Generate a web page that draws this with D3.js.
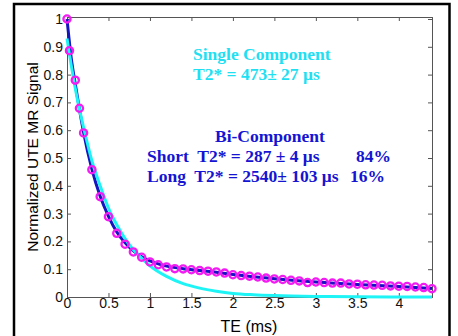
<!DOCTYPE html>
<html>
<head>
<meta charset="utf-8">
<script src="https://cdn.jsdelivr.net/npm/d3@7"></script>
<style>
  body { margin: 0; background: #fff; }
  svg { display: block; }
  .tick text { font-family: "Liberation Sans", Arial, sans-serif; font-size: 14px; fill: #111; }
  .axis path, .axis line { stroke: #555; }
  .note { font-family: "Liberation Serif", "Times New Roman", serif; font-weight: bold; font-size: 17.5px; white-space: pre; }
</style>
</head>
<body>
<div id="chart"></div>
<script>
// measured signal (magenta circles)
var teData = [0, 0.03, 0.1, 0.15, 0.2, 0.3, 0.4, 0.5, 0.6, 0.7, 0.8, 0.9, 1.0, 1.1, 1.2, 1.3,
  1.4, 1.5, 1.6, 1.7, 1.8, 1.9, 2.0, 2.1, 2.2, 2.3, 2.4, 2.5, 2.6, 2.7, 2.8, 2.9, 3.0,
  3.1, 3.2, 3.3, 3.4, 3.5, 3.6, 3.7, 3.8, 3.9, 4.0, 4.1, 4.2, 4.3, 4.4]
var signalData = [1.0, 0.886, 0.78, 0.679, 0.59, 0.458, 0.361, 0.289, 0.229, 0.19, 0.162, 0.143,
  0.126, 0.116, 0.108, 0.102, 0.101, 0.098, 0.095, 0.093, 0.09, 0.086, 0.08, 0.077, 0.075,
  0.072, 0.068, 0.065, 0.063, 0.06, 0.058, 0.052, 0.054, 0.052, 0.05, 0.05, 0.047, 0.046,
  0.044, 0.043, 0.042, 0.04, 0.039, 0.038, 0.036, 0.034, 0.03]

// bi-component fit (dark blue)
var teBi = [0, 0.05, 0.1, 0.15, 0.2, 0.3, 0.4, 0.5, 0.6, 0.7, 0.8, 0.9, 1.0, 1.1, 1.2, 1.4,
  1.6, 1.8, 2.0, 2.5, 3.0, 3.5, 4.0, 4.4]
var signalBi = [1.0, 0.862, 0.765, 0.675, 0.592, 0.46, 0.362, 0.29, 0.234, 0.195, 0.166, 0.145,
  0.13, 0.119, 0.111, 0.102, 0.095, 0.089, 0.081, 0.066, 0.054, 0.045, 0.038, 0.031]

// single component fit (cyan)
var teSingle = [0, 0.05, 0.1, 0.15, 0.2, 0.3, 0.4, 0.5, 0.6, 0.7, 0.8, 0.9, 1.0, 1.2, 1.4,
  1.6, 1.8, 2.0, 2.25, 2.5, 3.0, 3.5, 4.0, 4.4]
var signalSingle = [0.93, 0.835, 0.75, 0.675, 0.61, 0.49, 0.4, 0.32, 0.26, 0.21, 0.17, 0.14,
  0.112, 0.074, 0.048, 0.032, 0.021, 0.013, 0.008, 0.005, 0.002, 0.001, 0, 0]

var xTicks = [0, 0.5, 1, 1.5, 2, 2.5, 3, 3.5, 4]
var yTicks = [0, 0.1, 0.2, 0.3, 0.4, 0.5, 0.6, 0.7, 0.8, 0.9, 1]

var width = 458, height = 336
var svg = d3.select("#chart").append("svg").attr("width", width).attr("height", height)

// outer frame
svg.append("rect").attr("x", 14).attr("y", 4).attr("width", 435.5).attr("height", 345)
  .attr("fill", "none").attr("stroke", "#000").attr("stroke-width", 2.5)

var x = d3.scaleLinear().domain([0, 4.4]).range([67, 432])
var y = d3.scaleLinear().domain([0, 1.0072]).range([297, 17])

var fmt = d3.format("~g")

svg.append("g").attr("class", "axis").attr("transform", "translate(0,297)")
  .call(d3.axisBottom(x).tickValues(xTicks).tickFormat(fmt).tickSize(-4).tickPadding(1))
svg.append("g").attr("class", "axis").attr("transform", "translate(0,17)")
  .call(d3.axisTop(x).tickValues(xTicks).tickFormat("").tickSize(-4))
svg.append("g").attr("class", "axis").attr("transform", "translate(67,0)")
  .call(d3.axisLeft(y).tickValues(yTicks).tickFormat(fmt).tickSize(-4).tickPadding(4))
svg.append("g").attr("class", "axis").attr("transform", "translate(432,0)")
  .call(d3.axisRight(y).tickValues(yTicks).tickFormat("").tickSize(-4))

var line = d3.line().curve(d3.curveMonotoneX)

svg.append("path")
  .attr("d", line(teBi.map(function(t, i) { return [x(t), y(signalBi[i])] })))
  .attr("fill", "none").attr("stroke", "#1414c0").attr("stroke-width", 3)

svg.append("path")
  .attr("d", line(teSingle.map(function(t, i) { return [x(t), y(signalSingle[i])] })))
  .attr("fill", "none").attr("stroke", "#1ef4f6").attr("stroke-width", 3)

svg.append("g").selectAll("circle")
  .data(teData)
  .enter().append("circle")
  .attr("cx", function(d) { return x(d) })
  .attr("cy", function(d, i) { return y(signalData[i]) })
  .attr("r", 3.6)
  .attr("fill", "none").attr("stroke", "#f21cf2").attr("stroke-width", 2.3)

// axis titles
svg.append("text").attr("x", 249).attr("y", 332).attr("text-anchor", "middle")
  .style("font-family", "Liberation Sans, Arial, sans-serif").style("font-size", "16px")
  .text("TE (ms)")
svg.append("text").attr("transform", "translate(38,157) rotate(-90)").attr("text-anchor", "middle")
  .style("font-family", "Liberation Sans, Arial, sans-serif").style("font-size", "15.5px")
  .text("Normalized UTE MR Signal")

// annotations
var cyanTxt = "#1ee0f2", blueTxt = "#1414d2"
svg.append("text").attr("class", "note").attr("x", 193).attr("y", 60).attr("fill", cyanTxt)
  .text("Single Component")
svg.append("text").attr("class", "note").attr("x", 193).attr("y", 80).attr("fill", cyanTxt)
  .text("T2* = 473\u00b1 27 \u03bcs")
svg.append("text").attr("class", "note").attr("x", 215).attr("y", 142).attr("fill", blueTxt)
  .text("Bi-Component")
svg.append("text").attr("class", "note").attr("x", 147).attr("y", 162).attr("fill", blueTxt)
  .text("Short  T2* = 287 \u00b1 4 \u03bcs")
svg.append("text").attr("class", "note").attr("x", 356).attr("y", 162).attr("fill", blueTxt)
  .text("84%")
svg.append("text").attr("class", "note").attr("x", 147).attr("y", 182).attr("fill", blueTxt)
  .text("Long  T2* = 2540\u00b1 103 \u03bcs")
svg.append("text").attr("class", "note").attr("x", 350).attr("y", 182).attr("fill", blueTxt)
  .text("16%")
</script>
</body>
</html>
